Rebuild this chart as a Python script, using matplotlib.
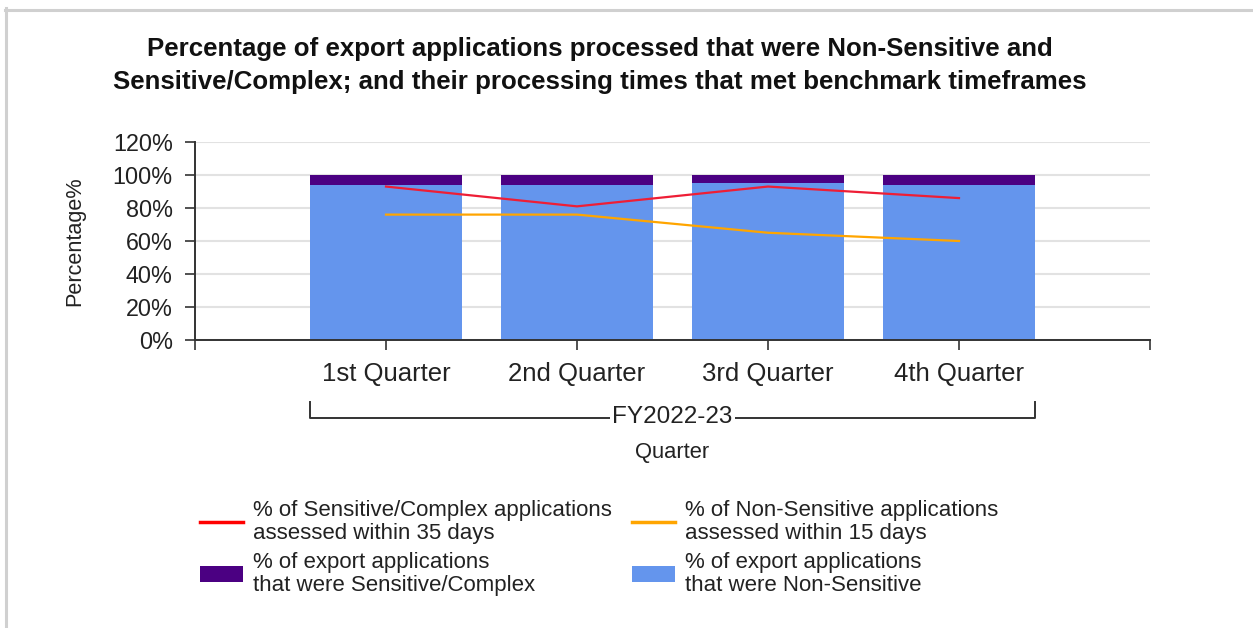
import matplotlib
matplotlib.use("Agg")
import matplotlib.pyplot as plt
from matplotlib.lines import Line2D
from matplotlib.patches import Patch
import matplotlib.transforms as mtransforms

plt.rcParams['font.family'] = ['Liberation Sans', 'DejaVu Sans']

# ---- data ----
quarters = ["1st Quarter", "2nd Quarter", "3rd Quarter", "4th Quarter"]
non_sensitive_pct = [94, 94, 95, 94]
sensitive_pct = [6, 6, 5, 6]
sensitive_within_35 = [93, 81, 93, 86]
non_sensitive_within_15 = [76, 76, 65, 60]
y_ticks = [0, 20, 40, 60, 80, 100, 120]
y_tick_labels = ["0%", "20%", "40%", "60%", "80%", "100%", "120%"]
group_label = "FY2022-23"

title = ("Percentage of export applications processed that were Non-Sensitive and\n"
         "Sensitive/Complex; and their processing times that met benchmark timeframes")
legend_labels = [
    "% of Sensitive/Complex applications\nassessed within 35 days",
    "% of export applications\nthat were Sensitive/Complex",
    "% of Non-Sensitive applications\nassessed within 15 days",
    "% of export applications\nthat were Non-Sensitive",
]

W, H = 1253, 628
fig = plt.figure(figsize=(W / 100, H / 100), dpi=100)

# border (top and left)
fig.add_artist(Line2D([6 / W, 6 / W], [0, 1 - 8 / H], transform=fig.transFigure, color="#d0d0d0", lw=2.2))
fig.add_artist(Line2D([5 / W, 1], [1 - 9.5 / H, 1 - 9.5 / H], transform=fig.transFigure, color="#d0d0d0", lw=2.2))

ax = fig.add_axes([195 / W, 1 - 340 / H, (1150 - 195) / W, (340 - 142) / H])

x = list(range(1, len(quarters) + 1))
blue = "#6495ED"
purple = "#4B0082"
ax.bar(x, non_sensitive_pct, width=0.8, color=blue, zorder=2)
ax.bar(x, sensitive_pct, width=0.8, bottom=non_sensitive_pct, color=purple, zorder=2)
ax.plot(x, sensitive_within_35, color="#EE1E36", lw=1.6, zorder=3)
ax.plot(x, non_sensitive_within_15, color="#FFA500", lw=1.6, zorder=3)

ax.set_xlim(0, 5)
ax.set_ylim(0, 120)
ax.set_yticks(y_ticks)
ax.set_yticklabels(y_tick_labels, fontsize=16.8, color="#222222")
ax.set_xticks(x)
ax.set_xticklabels(quarters, fontsize=18.5, color="#222222")
ax.set_xticks([0, 5], minor=True)
ax.tick_params(axis="x", which="major", length=7, width=1.2, color="#333333", pad=9)
ax.tick_params(axis="x", which="minor", length=7, width=1.2, color="#333333")
ax.tick_params(axis="y", length=7, width=1.2, color="#333333", pad=9)

ax.grid(axis="y", color="#e2e2e2", lw=1.5, zorder=0)
ax.set_axisbelow(True)
for s in ["top", "right"]:
    ax.spines[s].set_visible(False)
for s in ["left", "bottom"]:
    ax.spines[s].set_color("#333333")
    ax.spines[s].set_linewidth(1.4)

ax.set_ylabel("Percentage%", fontsize=15.6, color="#222222", labelpad=20)

# group bracket
trans = mtransforms.blended_transform_factory(ax.transData, ax.transAxes)
x0 = x[0] - 0.4
x1 = x[-1] + 0.4
y_top = -0.313
y_line = -0.394
ax.plot([x0, x0, x1, x1], [y_top, y_line, y_line, y_top], transform=trans,
        color="#333333", lw=1.4, clip_on=False)
ax.text((x0 + x1) / 2, y_line + 0.005, group_label, transform=trans, ha="center", va="center",
        fontsize=17.5, color="#222222",
        bbox=dict(facecolor="white", edgecolor="none", pad=1.5))
ax.text((x0 + x1) / 2, -0.566, "Quarter", transform=trans, ha="center", va="center",
        fontsize=15.8, color="#222222")

fig.text(600 / W, 1 - 65.5 / H, title, ha="center", va="center", fontsize=18.6,
         fontweight="bold", color="#111111", linespacing=1.45)

handles = [
    Line2D([0], [0], color="#FF0000", lw=2.5),
    Patch(facecolor=purple, edgecolor="none"),
    Line2D([0], [0], color="#FFA500", lw=2.5),
    Patch(facecolor=blue, edgecolor="none"),
]
leg = fig.legend(handles, legend_labels, ncol=2, loc="upper left",
                 bbox_to_anchor=(200 / W, 1 - 500 / H), frameon=False,
                 borderpad=0, borderaxespad=0,
                 fontsize=16, handlelength=1.94, handleheight=0.7, handletextpad=0.45,
                 columnspacing=0.9, labelspacing=0.33)
for t in leg.get_texts():
    t.set_linespacing(1.15)
    t.set_color("#222222")

fig.savefig("out.png", dpi=100)
